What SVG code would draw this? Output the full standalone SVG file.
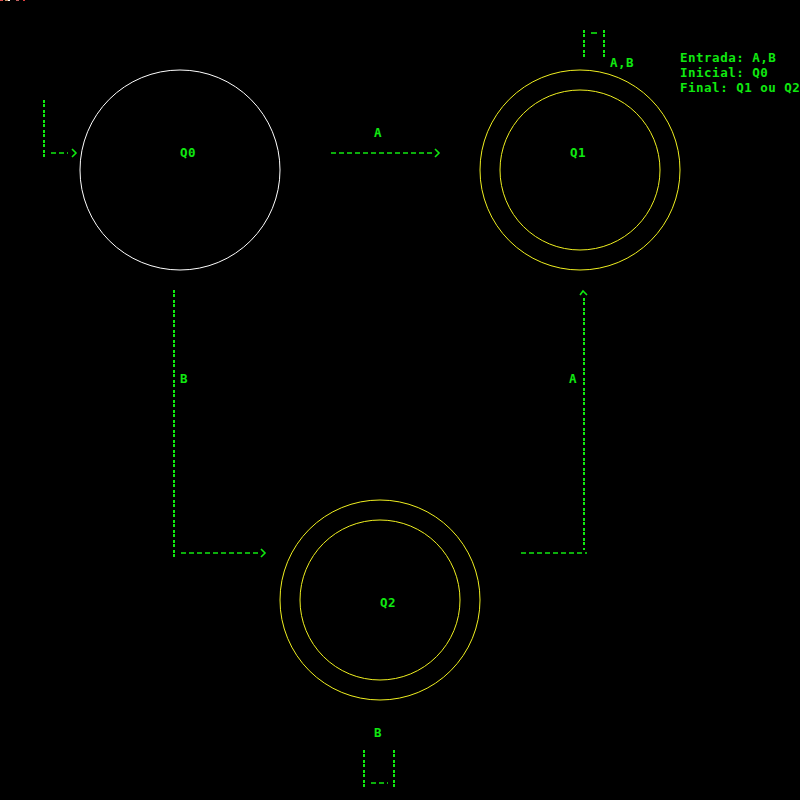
<svg xmlns="http://www.w3.org/2000/svg" width="800" height="800" viewBox="0 0 800 800">
<style>
.t{font-family:"DejaVu Sans Mono","Liberation Mono",monospace;font-weight:bold;font-size:12.5px;letter-spacing:0.5px;fill:#10e810}
.lbl{text-anchor:middle}
.v{stroke:#10e810;stroke-width:2;stroke-dasharray:3 1 3 3;fill:none}
.h{stroke:#10e810;stroke-width:1.5;stroke-dasharray:5 3;fill:none}
.ah{stroke:#10e810;stroke-width:1.6;fill:none}
.st{fill:none;stroke-width:1}
</style>
<rect width="800" height="800" fill="#000"/>
<g id="artifacts">
<rect x="0" y="0" width="3" height="1" fill="#e05050"/>
<rect x="5" y="0" width="3" height="1" fill="#c09060"/>
<rect x="8" y="0" width="2" height="1" fill="#ffffff"/>
<rect x="16" y="0" width="3" height="1" fill="#c06060"/>
<rect x="23" y="0" width="2" height="1" fill="#e04040"/>
</g>
<g id="legend">
<text class="t" x="680" y="62">Entrada: A,B</text>
<text class="t" x="680" y="77">Inicial: Q0</text>
<text class="t" x="680" y="92">Final: Q1 ou Q2</text>
</g>
<g id="Q0">
<circle class="st" cx="180" cy="170" r="100" stroke="#ffffff"/>
<text class="t lbl" x="188" y="157">Q0</text>
</g>
<g id="Q1">
<circle class="st" cx="580" cy="170" r="100" stroke="#f0f020"/>
<circle class="st" cx="580" cy="170" r="80" stroke="#f0f020"/>
<text class="t lbl" x="578" y="157">Q1</text>
</g>
<g id="Q2">
<circle class="st" cx="380" cy="600" r="100" stroke="#f0f020"/>
<circle class="st" cx="380" cy="600" r="80" stroke="#f0f020"/>
<text class="t lbl" x="388" y="607">Q2</text>
</g>
<g id="connectors">
<!-- initial -->
<line class="v" x1="44" y1="100" x2="44" y2="158"/>
<line class="h" x1="51" y1="153" x2="68" y2="153"/>
<polyline class="ah" points="72,149 76,153 72,157"/>
<!-- Q0 -> Q1 -->
<line class="h" x1="331" y1="153" x2="432" y2="153"/>
<polyline class="ah" points="435,149 439,153 435,157"/>
<text class="t lbl" x="378" y="137">A</text>
<!-- Q1 self loop -->
<line class="v" x1="584" y1="30" x2="584" y2="57"/>
<line class="v" x1="604" y1="30" x2="604" y2="57"/>
<line class="ah" x1="591" y1="33" x2="597" y2="33" stroke-width="1.2"/>
<text class="t" x="610" y="67">A,B</text>
<!-- Q0 -> Q2 -->
<line class="v" x1="174" y1="290" x2="174" y2="557"/>
<line class="h" x1="181" y1="553" x2="258" y2="553"/>
<polyline class="ah" points="261,549 265,553 261,557"/>
<text class="t lbl" x="184" y="383">B</text>
<!-- Q2 -> Q1 -->
<line class="h" x1="521" y1="553" x2="587" y2="553"/>
<line class="v" x1="584" y1="298" x2="584" y2="550"/>
<polyline class="ah" points="580,295 583,291 587,295"/>
<text class="t lbl" x="573" y="383">A</text>
<!-- Q2 self loop -->
<text class="t lbl" x="378" y="737">B</text>
<line class="v" x1="364" y1="750" x2="364" y2="787"/>
<line class="v" x1="394" y1="750" x2="394" y2="787"/>
<line class="h" x1="371" y1="783" x2="388" y2="783"/>
</g>
</svg>
